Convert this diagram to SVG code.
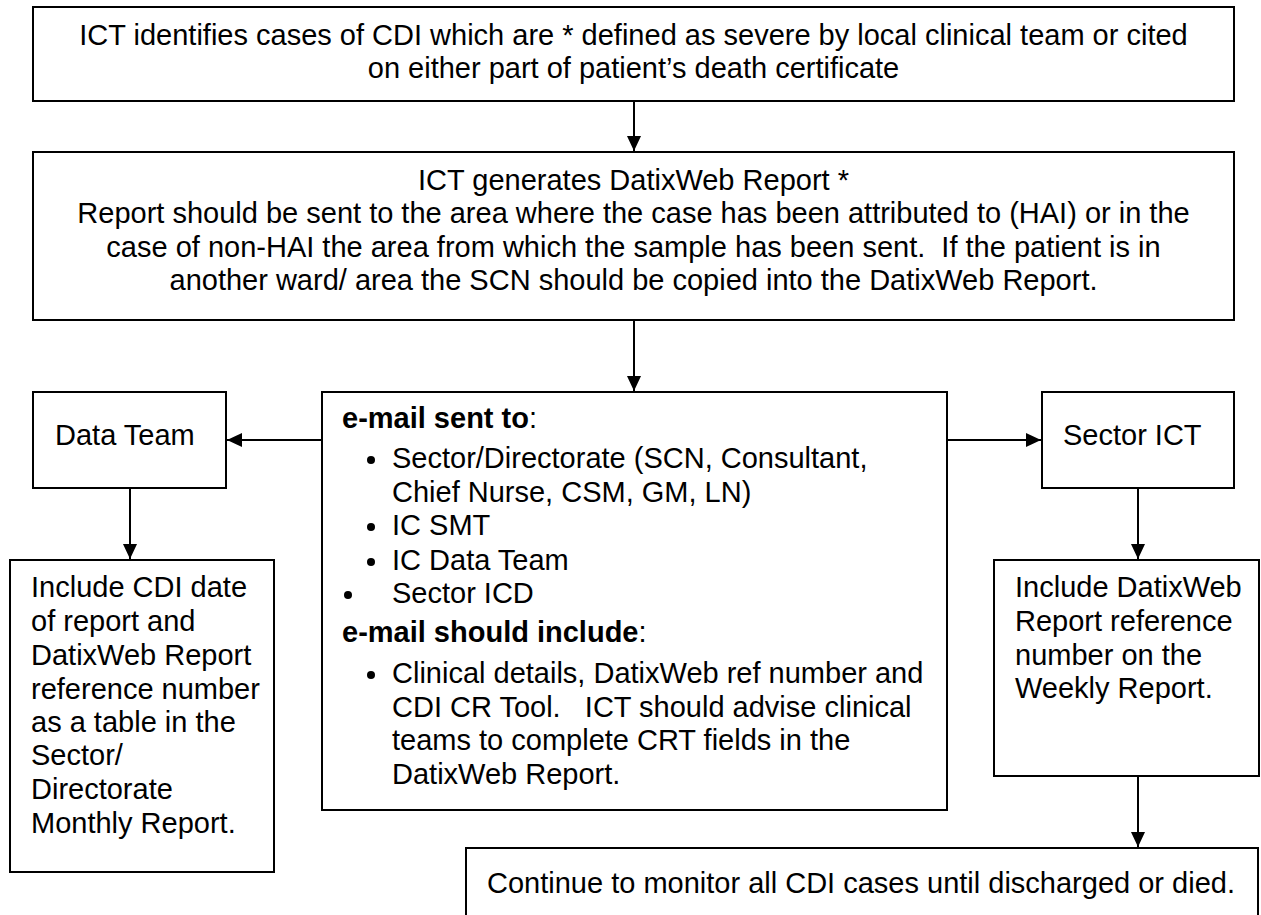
<svg xmlns="http://www.w3.org/2000/svg" width="1261" height="915" viewBox="0 0 1261 915">
<style>
.box{fill:#fff;stroke:#000;stroke-width:2}
.t{font-family:"Liberation Sans",Arial,sans-serif;font-size:29px;fill:#000}
.c{text-anchor:middle}
.b{font-weight:bold}
.pre{white-space:pre}
.dot{fill:#000}
.ln{stroke:#000;stroke-width:2;fill:none}
</style>
<defs>
<marker id="ah" viewBox="0 0 15 14" refX="15" refY="7" markerWidth="15" markerHeight="14" markerUnits="userSpaceOnUse" orient="auto">
<path d="M0,0 L15,7 L0,14 Z" fill="#000"/>
</marker>
</defs>
<g id="connectors">
<line class="ln" x1="634" y1="101" x2="634" y2="151" marker-end="url(#ah)"/>
<line class="ln" x1="634" y1="320" x2="634" y2="391" marker-end="url(#ah)"/>
<line class="ln" x1="322" y1="440" x2="227" y2="440" marker-end="url(#ah)"/>
<line class="ln" x1="947" y1="440" x2="1041" y2="440" marker-end="url(#ah)"/>
<line class="ln" x1="130" y1="488" x2="130" y2="559" marker-end="url(#ah)"/>
<line class="ln" x1="1138" y1="488" x2="1138" y2="559" marker-end="url(#ah)"/>
<line class="ln" x1="1138" y1="776" x2="1138" y2="847" marker-end="url(#ah)"/>
</g>
<g id="n1">
<rect class="box" x="33" y="7" width="1201" height="94"/>
<text class="t c" x="633.5" y="45">ICT identifies cases of CDI which are * defined as severe by local clinical team or cited</text>
<text class="t c" x="633.5" y="78">on either part of patient’s death certificate</text>
</g>
<g id="n2">
<rect class="box" x="33" y="152" width="1201" height="168"/>
<text class="t c" x="633.5" y="190">ICT generates DatixWeb Report *</text>
<text class="t c" x="633.5" y="223">Report should be sent to the area where the case has been attributed to (HAI) or in the</text>
<text class="t c pre" x="633.5" y="257">case of non-HAI the area from which the sample has been sent.  If the patient is in</text>
<text class="t c" x="633.5" y="290">another ward/ area the SCN should be copied into the DatixWeb Report.</text>
</g>
<g id="n3">
<rect class="box" x="322" y="392" width="625" height="418"/>
<text class="t" x="342" y="428"><tspan class="b">e-mail sent to</tspan>:</text>
<circle class="dot" cx="371" cy="460" r="4"/>
<text class="t" x="392" y="468">Sector/Directorate (SCN, Consultant,</text>
<text class="t" x="392" y="502">Chief Nurse, CSM, GM, LN)</text>
<circle class="dot" cx="371" cy="527" r="4"/>
<text class="t" x="392" y="535">IC SMT</text>
<circle class="dot" cx="371" cy="562" r="4"/>
<text class="t" x="392" y="570">IC Data Team</text>
<circle class="dot" cx="348" cy="595" r="4"/>
<text class="t" x="392" y="603">Sector ICD</text>
<text class="t" x="342" y="642"><tspan class="b">e-mail should include</tspan>:</text>
<circle class="dot" cx="371" cy="675" r="4"/>
<text class="t" x="392" y="683">Clinical details, DatixWeb ref number and</text>
<text class="t pre" x="392" y="717">CDI CR Tool.   ICT should advise clinical</text>
<text class="t" x="392" y="750">teams to complete CRT fields in the</text>
<text class="t" x="392" y="784">DatixWeb Report.</text>
</g>
<g id="n4">
<rect class="box" x="33" y="392" width="193" height="96"/>
<text class="t" x="55" y="445">Data Team</text>
</g>
<g id="n5">
<rect class="box" x="1042" y="392" width="192" height="96"/>
<text class="t" x="1063" y="445">Sector ICT</text>
</g>
<g id="n6">
<rect class="box" x="10" y="560" width="264" height="312"/>
<text class="t" x="31" y="597">Include CDI date</text>
<text class="t" x="31" y="631">of report and</text>
<text class="t" x="31" y="665">DatixWeb Report</text>
<text class="t" x="31" y="699">reference number</text>
<text class="t" x="31" y="732">as a table in the</text>
<text class="t" x="31" y="765">Sector/</text>
<text class="t" x="31" y="799">Directorate</text>
<text class="t" x="31" y="833">Monthly Report.</text>
</g>
<g id="n7">
<rect class="box" x="994" y="560" width="265" height="216"/>
<text class="t" x="1015" y="597">Include DatixWeb</text>
<text class="t" x="1015" y="631">Report reference</text>
<text class="t" x="1015" y="665">number on the</text>
<text class="t" x="1015" y="698">Weekly Report.</text>
</g>
<g id="n8">
<rect class="box" x="466" y="848" width="792" height="80"/>
<text class="t" x="487" y="893">Continue to monitor all CDI cases until discharged or died.</text>
</g>
</svg>
